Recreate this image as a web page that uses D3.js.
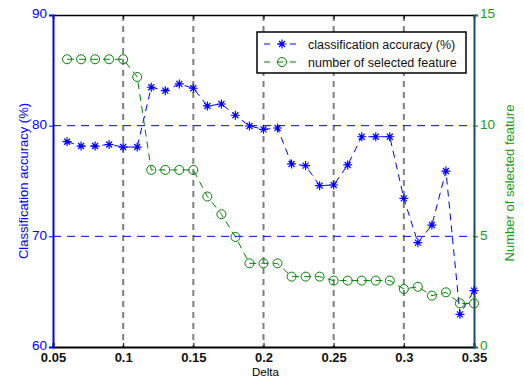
<!DOCTYPE html>
<html>
<head>
<meta charset="utf-8">
<script src="https://cdn.jsdelivr.net/npm/d3@7"></script>
<style>
  body { margin: 0; background: #fff; }
  svg { font-family: "Liberation Sans", Arial, sans-serif; }
</style>
</head>
<body>
<div id="chart"></div>
<script>
// chart values
const delta = [0.06, 0.07, 0.08, 0.09, 0.10, 0.11, 0.12, 0.13, 0.14, 0.15,
               0.16, 0.17, 0.18, 0.19, 0.20, 0.21, 0.22, 0.23, 0.24, 0.25,
               0.26, 0.27, 0.28, 0.29, 0.30, 0.31, 0.32, 0.33, 0.34, 0.35];
const accuracy = [78.55, 78.16, 78.16, 78.3, 78.07, 78.07, 83.47, 83.16, 83.77, 83.38,
                  81.78, 81.96, 80.94, 79.97, 79.67, 79.79, 76.54, 76.39, 74.58, 74.64,
                  76.45, 79.0, 79.0, 79.0, 73.43, 69.43, 71.02, 75.9, 62.95, 65.1];
const features = [13, 13, 13, 13, 13, 12.2, 8, 8, 8, 8,
                  6.8, 6.0, 4.97, 3.78, 3.78, 3.78, 3.18, 3.18, 3.18, 3.0,
                  3.0, 3.0, 3.0, 3.0, 2.62, 2.72, 2.32, 2.47, 1.97, 1.97];
const xTicks = [0.05, 0.1, 0.15, 0.2, 0.25, 0.3, 0.35];
const leftTicks = [60, 70, 80, 90];
const rightTicks = [0, 5, 10, 15];
const seriesNames = ["classification accuracy (%)", "number of selected feature"];

const width = 524, height = 380;
const margin = {top: 15, left: 53, right: 50, bottom: 33};
const blue = "#0000ff", green = "#008000", gray = "#7f7f7f";

const svg = d3.select("#chart").append("svg")
    .attr("width", width)
    .attr("height", height);

const x = d3.scaleLinear().domain([0.05, 0.35])
    .range([margin.left, width - margin.right]);
const yL = d3.scaleLinear().domain([60, 90])
    .range([height - margin.bottom, margin.top]);
const yR = d3.scaleLinear().domain([0, 15])
    .range([height - margin.bottom, margin.top]);

// vertical gray grid
svg.append("g").selectAll("line")
    .data(xTicks.slice(1, -1))
    .enter().append("line")
    .attr("x1", d => x(d)).attr("x2", d => x(d))
    .attr("y1", margin.top).attr("y2", height - margin.bottom)
    .style("stroke", gray)
    .style("stroke-width", 2)
    .style("stroke-dasharray", "6,5");

// horizontal blue grid
svg.append("g").selectAll("line")
    .data(leftTicks.slice(1, -1))
    .enter().append("line")
    .attr("x1", margin.left).attr("x2", width - margin.right)
    .attr("y1", d => yL(d)).attr("y2", d => yL(d))
    .style("stroke", blue)
    .style("stroke-width", 1)
    .style("stroke-dasharray", "8,6");

// axes
const xAxis = svg.append("g")
    .attr("transform", "translate(0," + (height - margin.bottom) + ")")
    .call(d3.axisBottom(x).tickValues(xTicks).tickSize(-4).tickPadding(6)
        .tickFormat(d3.format("")));
xAxis.select("path").style("stroke", "#000").style("stroke-width", 2);
xAxis.selectAll("line").style("stroke", "#000");
xAxis.selectAll("text").style("font-size", "13px").style("fill", "#111")
    .style("font-weight", "bold");

const xTop = svg.append("g")
    .attr("transform", "translate(0," + margin.top + ")")
    .call(d3.axisTop(x).tickValues(xTicks).tickSize(-4).tickFormat(""));
xTop.select("path").style("stroke", "#000").style("stroke-width", 1.5);
xTop.selectAll("line").style("stroke", "#000");

const yAxisL = svg.append("g")
    .attr("transform", "translate(" + margin.left + ",0)")
    .call(d3.axisLeft(yL).tickValues(leftTicks).tickSize(4).tickPadding(2));
yAxisL.select("path").style("stroke", blue).style("stroke-width", 2);
yAxisL.selectAll("line").style("stroke", blue);
yAxisL.selectAll("text").style("font-size", "13.5px").style("fill", blue)
    .attr("dy", "0.22em");

const yAxisR = svg.append("g")
    .attr("transform", "translate(" + (width - margin.right) + ",0)")
    .call(d3.axisRight(yR).tickValues(rightTicks).tickSize(4).tickPadding(2));
yAxisR.select("path").style("stroke", "#1d4b6b").style("stroke-width", 2);
yAxisR.selectAll("line").style("stroke", green);
yAxisR.selectAll("text").style("font-size", "13.5px").style("fill", "#1a9a1a")
    .attr("dy", "0.22em");

// axis titles
svg.append("text")
    .attr("x", (margin.left + width - margin.right) / 2 + 2)
    .attr("y", height - 4)
    .attr("text-anchor", "middle")
    .style("font-size", "11.5px")
    .text("Delta");

svg.append("text")
    .attr("transform", "translate(28," + ((margin.top + height - margin.bottom) / 2) + ") rotate(-90)")
    .attr("text-anchor", "middle")
    .style("font-size", "13px")
    .style("fill", blue)
    .text("Classification accuracy (%)");

svg.append("text")
    .attr("transform", "translate(514," + ((margin.top + height - margin.bottom) / 2 + 2) + ") rotate(-90)")
    .attr("text-anchor", "middle")
    .style("font-size", "13px")
    .style("fill", "#1a9a1a")
    .text("Number of selected feature");

// series
const blueLine = d3.line().x((d, i) => x(delta[i])).y(d => yL(d));
const greenLine = d3.line().x((d, i) => x(delta[i])).y(d => yR(d));

function star(g, cx, cy, color) {
    const r = 4.5;
    g.append("path")
        .attr("d", "M" + (cx - r) + "," + cy + "H" + (cx + r) +
            "M" + cx + "," + (cy - r) + "V" + (cy + r) +
            "M" + (cx - 3) + "," + (cy - 3) + "L" + (cx + 3) + "," + (cy + 3) +
            "M" + (cx - 3) + "," + (cy + 3) + "L" + (cx + 3) + "," + (cy - 3))
        .style("stroke", color).style("stroke-width", 1.2).style("fill", "none");
}

svg.append("path")
    .datum(accuracy)
    .attr("d", blueLine)
    .style("fill", "none").style("stroke", blue)
    .style("stroke-width", 1).style("stroke-dasharray", "7,5");

const stars = svg.append("g");
accuracy.forEach((d, i) => star(stars, x(delta[i]), yL(d), blue));

svg.append("path")
    .datum(features)
    .attr("d", greenLine)
    .style("fill", "none").style("stroke", green)
    .style("stroke-width", 1).style("stroke-dasharray", "7,5");

svg.append("g").selectAll("circle")
    .data(features)
    .enter().append("circle")
    .attr("cx", (d, i) => x(delta[i]))
    .attr("cy", d => yR(d))
    .attr("r", 4.5)
    .style("fill", "none").style("stroke", green).style("stroke-width", 1);

// legend
const legend = svg.append("g");
legend.append("rect")
    .attr("x", 257).attr("y", 32).attr("width", 209).attr("height", 41)
    .style("fill", "#fff").style("stroke", "#000").style("stroke-width", 1.5);

[0, 1].forEach(i => {
    const ly = 44 + i * 18;
    const color = i === 0 ? blue : green;
    legend.append("line")
        .attr("x1", 264).attr("x2", 301).attr("y1", ly).attr("y2", ly)
        .style("stroke", color).style("stroke-width", 1)
        .style("stroke-dasharray", "6,7");
    if (i === 0) {
        star(legend, 282, ly, blue);
    } else {
        legend.append("circle").attr("cx", 282).attr("cy", ly).attr("r", 4.5)
            .style("fill", "none").style("stroke", green);
    }
    legend.append("text")
        .attr("x", 308).attr("y", ly + 4.5)
        .style("font-size", "12.5px")
        .style("fill", "#111")
        .text(seriesNames[i]);
});
</script>
</body>
</html>
